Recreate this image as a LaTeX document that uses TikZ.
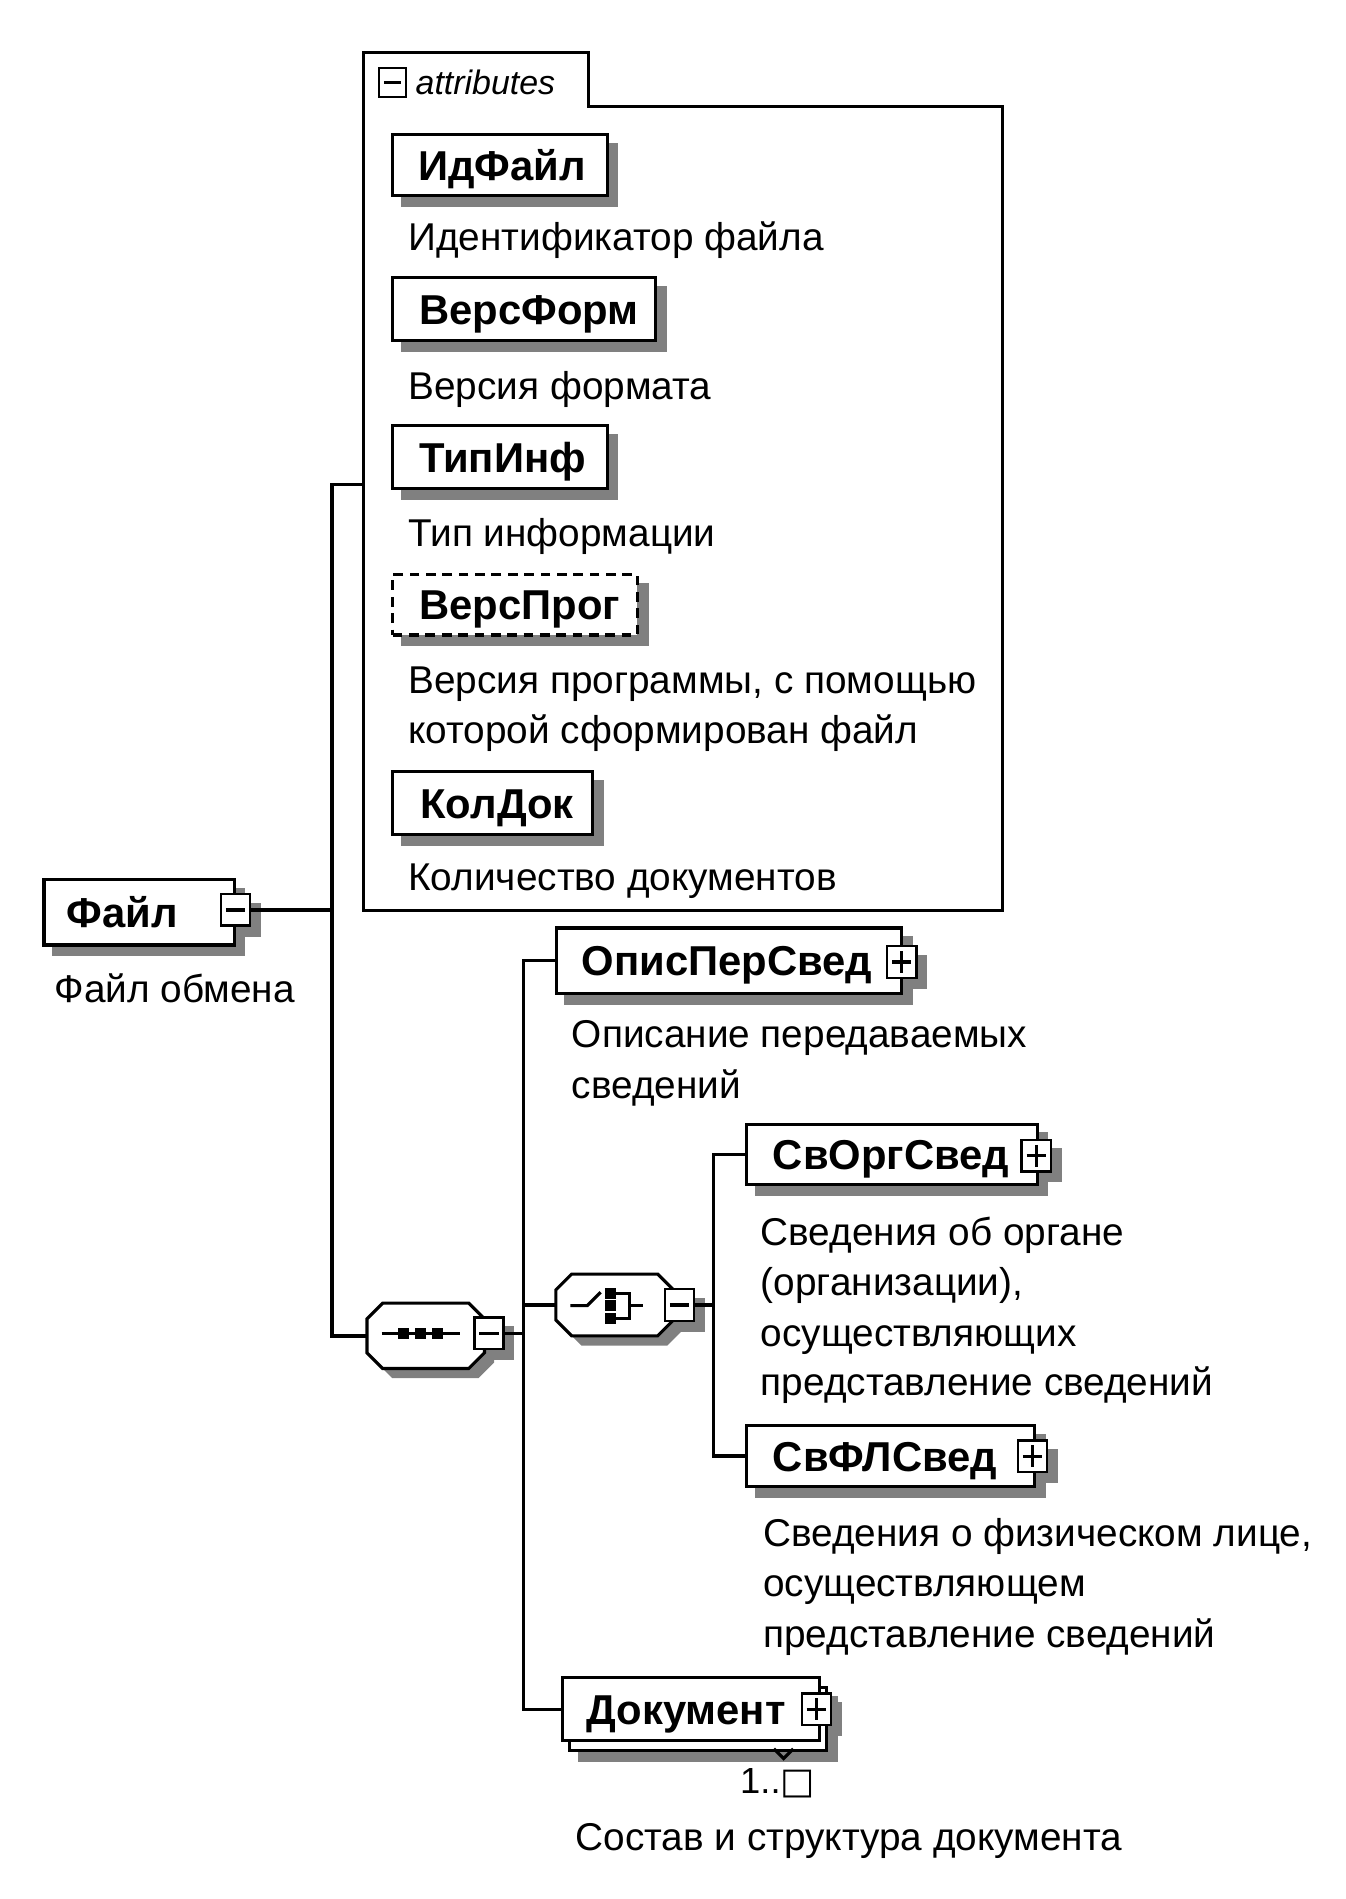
\documentclass[tikz,border=0pt]{standalone}
\usepackage{fontspec}
\setmainfont{Liberation Sans}
\newfontfamily\symfont{DejaVu Sans}
\usetikzlibrary{backgrounds}
\begin{document}
\begin{tikzpicture}[x=1pt,y=-1pt,
  conn/.style={line width=2.8pt},
  box/.style={draw, line width=2.6pt, fill=white, anchor=north west, inner sep=0pt},
  optbox/.style={box, dash pattern=on 8pt off 5.5pt},
  nm/.style={anchor=base west, inner sep=0pt, font=\fontsize{34.5}{40}\selectfont\bfseries},
  lbl/.style={anchor=base west, inner sep=0pt, font=\fontsize{32}{40}\selectfont},
  pm/.style={draw, line width=2pt, fill=white, minimum width=24pt, minimum height=26pt, inner sep=0pt},
  minusbox/.style={pm, path picture={\draw[line width=3pt] ([xshift=4pt]path picture bounding box.west) -- ([xshift=-4pt]path picture bounding box.east);}},
  plusbox/.style={pm, path picture={\draw[line width=2.6pt] ([xshift=4pt]path picture bounding box.west) -- ([xshift=-4pt]path picture bounding box.east); \draw[line width=2.6pt] ([yshift=-4pt]path picture bounding box.north) -- ([yshift=4pt]path picture bounding box.south);}},
  octframe/.style={draw, line width=2.6pt, fill=white},
  anchorbox/.style={rectangle, inner sep=0pt, anchor=center},
  shd/.style={fill=black!50, draw=none},
  icon/.style={line width=2.6pt},
]
% ---------------- attributes frame ----------------
\draw[line width=2.4pt] (300,43) -- (486,43) -- (486,88) -- (828,88) -- (828,752) -- (300,752) -- cycle;
\coordinate (attrC) at (300,400);
\node[minusbox, minimum width=22pt, minimum height=24pt] (attrm) at (324,68) {};
\node[anchor=base west, inner sep=0pt, font=\fontsize{28}{32}\selectfont\itshape] (attrt) at (343,78) {attributes};

% attribute boxes
\node[box, minimum width=177pt, minimum height=50pt] (a1) at (323,110) {};
\node[nm] (a1t) at ([xshift=22pt,yshift=-12.5pt]a1.west) {ИдФайл};
\node[lbl] (d1) at (337,207) {Идентификатор файла};

\node[box, minimum width=217pt, minimum height=52pt] (a2) at (323,228) {};
\node[nm] (a2t) at ([xshift=23pt,yshift=-12.5pt]a2.west) {ВерсФорм};
\node[lbl] (d2) at (337,330) {Версия формата};

\node[box, minimum width=177pt, minimum height=52pt] (a3) at (323,350) {};
\node[nm] (a3t) at ([xshift=23pt,yshift=-12.5pt]a3.west) {ТипИнф};
\node[lbl] (d3) at (337,451) {Тип информации};

\node[optbox, minimum width=202pt, minimum height=50pt] (a4) at (323,473) {};
\node[nm] (a4t) at ([xshift=23pt,yshift=-12.5pt]a4.west) {ВерсПрог};
\node[lbl] (d4a) at (337,573) {Версия программы, с помощью};
\node[lbl] (d4b) at (337,614) {которой сформирован файл};

\node[box, minimum width=165pt, minimum height=52pt] (a5) at (323,636) {};
\node[nm] (a5t) at ([xshift=24pt,yshift=-12.5pt]a5.west) {КолДок};
\node[lbl] (d5) at (337,735) {Количество документов};

% ---------------- root element ----------------
\node[box, minimum width=157pt, minimum height=54pt] (fail) at (35,725) {};
\node[nm] (failt) at ([xshift=20pt,yshift=-12.5pt]fail.west) {Файл};
\node[minusbox] (failm) at ([yshift=2pt]fail.east) {};
\node[lbl] (dfail) at (45,828) {Файл обмена};

% ---------------- sequence (octagon) ----------------
\node[anchorbox, minimum width=97pt, minimum height=54pt] (seq) at (351.5,1103) {};
\draw[octframe] (316,1076) -- (387,1076) -- (400,1089) -- (400,1117) -- (387,1130) -- (316,1130) -- (303,1117) -- (303,1089) -- cycle;
\node[minusbox] (seqm) at ([xshift=3.5pt,yshift=2pt]seq.east) {};
\draw[icon] (315,1101) -- (380,1101);
\foreach \xx in {333,347,361} \fill (\xx-4.5,1096.5) rectangle (\xx+4.5,1105.5);

% ---------------- choice (octagon) ----------------
\node[anchorbox, minimum width=97pt, minimum height=51pt] (cho) at (507.5,1077.5) {};
\draw[octframe] (472,1052) -- (543,1052) -- (556,1065) -- (556,1090) -- (543,1103) -- (472,1103) -- (459,1090) -- (459,1065) -- cycle;
\node[minusbox] (chom) at ([xshift=5pt]cho.east) {};
\draw[icon] (471,1078) -- (485,1078) -- (496,1067);
\foreach \yy in {1068,1078,1089} \fill (499.5,\yy-4.5) rectangle (508.5,\yy+4.5);
\draw[icon] (504,1068) -- (520,1068) -- (520,1089) -- (504,1089);
\draw[icon] (520,1078) -- (531,1078);

% ---------------- child elements ----------------
\node[box, minimum width=285pt, minimum height=54pt] (opis) at (458,765) {};
\node[nm] (opist) at ([xshift=22pt,yshift=-12.5pt]opis.west) {ОписПерСвед};
\node[plusbox] (opisp) at ([xshift=-1pt,yshift=-1pt]opis.east) {};
\node[lbl] (dopA) at (472,865) {Описание передаваемых};
\node[lbl] (dopB) at (472,907) {сведений};

\node[box, minimum width=240pt, minimum height=50pt] (org) at (615,927) {};
\node[nm] (orgt) at ([xshift=23pt,yshift=-12.5pt]org.west) {СвОргСвед};
\node[plusbox] (orgp) at ([xshift=-2pt,yshift=-1pt]org.east) {};
\node[lbl] (dorA) at (628,1028) {Сведения об органе};
\node[lbl] (dorB) at (628,1070) {(организации),};
\node[lbl] (dorC) at (628,1112) {осуществляющих};
\node[lbl] (dorD) at (628,1152) {представление сведений};

\node[box, minimum width=238pt, minimum height=50pt] (fl) at (615,1176) {};
\node[nm] (flt) at ([xshift=23pt,yshift=-12.5pt]fl.west) {СвФЛСвед};
\node[plusbox] (flp) at ([xshift=-3pt]fl.east) {};
\node[lbl] (dflA) at (630,1277) {Сведения о физическом лице,};
\node[lbl] (dflB) at (630,1318) {осуществляющем};
\node[lbl] (dflC) at (630,1360) {представление сведений};

\node[box, minimum width=212pt, minimum height=52pt] (dokb) at (469,1392) {};
\draw[line width=2.6pt] (639,1444) -- (647,1452) -- (655,1444);
\node[box, minimum width=212pt, minimum height=52pt] (dok) at (463,1384) {};
\node[nm] (dokt) at ([xshift=21pt,yshift=-12.5pt]dok.west) {Документ};
\node[plusbox] (dokp) at ([xshift=-3.5pt]dok.east) {};
\node[anchor=base west, inner sep=0pt, font=\fontsize{30}{36}\selectfont] (dokn) at (611,1481) {1..{\symfont □}};
\node[lbl] (ddok) at (475,1528) {Состав и структура документа};

% ---------------- connectors ----------------
\coordinate (b1) at (274,0);
\coordinate (b2) at (432,0);
\coordinate (b3) at (589,0);
\draw[conn] (failm.east) -- (failm.east -| b1);
\draw[conn] (attrC) -- (attrC -| b1) -- (seq.west -| b1) -- (seq.west);
\draw[conn] (seqm.east) -- (seqm.east -| b2);
\draw[conn] (opis.west) -- (opis.west -| b2) -- (dok.west -| b2) -- (dok.west);
\draw[conn] (cho.west) -- (cho.west -| b2);
\draw[conn] (chom.east) -- (chom.east -| b3);
\draw[conn] (org.west) -- (org.west -| b3) -- (fl.west -| b3) -- (fl.west);

% ---------------- background and shadows ----------------
\begin{scope}[on background layer]
\path[use as bounding box, fill=white] (0,0) rectangle (1111,1568);
\foreach \n in {a1,a2,a3,a4,a5,fail,failm,opis,opisp,org,orgp,fl,flp,dokb,dokp,seqm,chom}
  \fill[shd] ([shift={(8,8)}]\n.north west) rectangle ([shift={(8,8)}]\n.south east);
\fill[shd] (324,1084) -- (395,1084) -- (408,1097) -- (408,1125) -- (395,1138) -- (324,1138) -- (311,1125) -- (311,1097) -- cycle;
\fill[shd] (480,1060) -- (551,1060) -- (564,1073) -- (564,1098) -- (551,1111) -- (480,1111) -- (467,1098) -- (467,1073) -- cycle;
\end{scope}
\end{tikzpicture}
\end{document}
